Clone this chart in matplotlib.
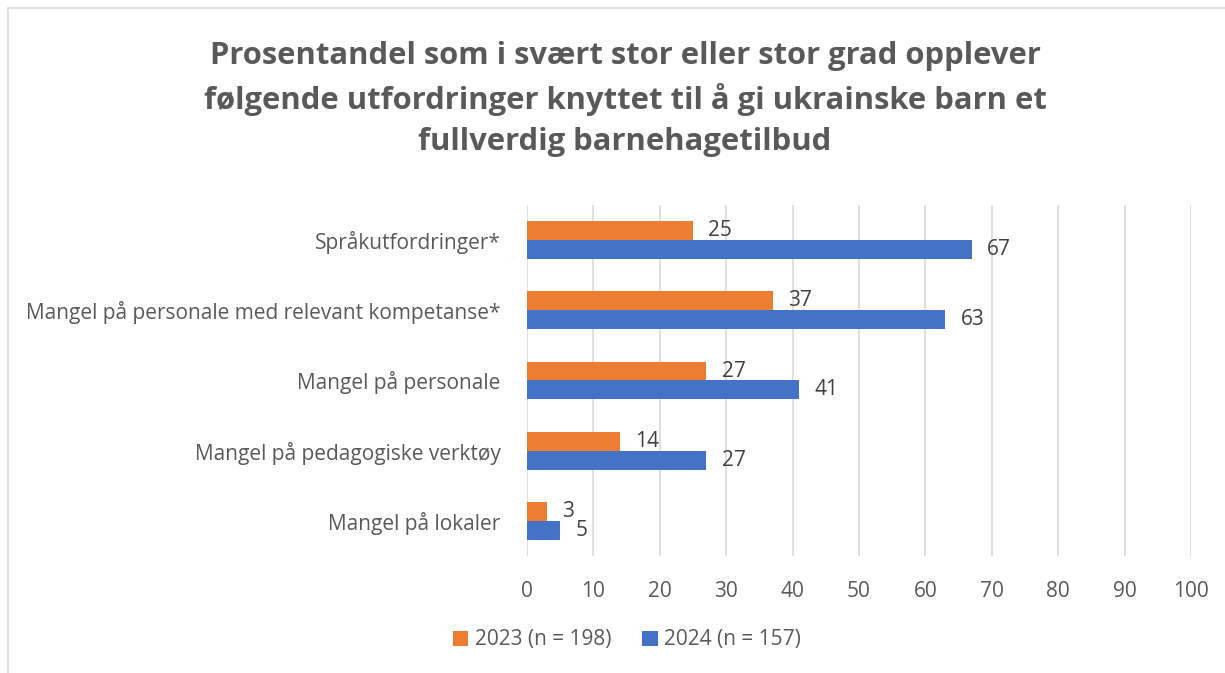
import matplotlib
matplotlib.use('Agg')
import matplotlib.pyplot as plt
import numpy as np
from matplotlib.patches import Rectangle

# Data
categories = [
    'Språkutfordringer*',
    'Mangel på personale med relevant kompetanse*',
    'Mangel på personale',
    'Mangel på pedagogiske verktøy',
    'Mangel på lokaler',
]
values_2023 = [25, 37, 27, 14, 3]
values_2024 = [67, 63, 41, 27, 5]
series_names = ['2023 (n = 198)', '2024 (n = 157)']
x_ticks = list(range(0, 101, 10))

title = ('Prosentandel som i svært stor eller stor grad opplever\n'
         'følgende utfordringer knyttet til å gi ukrainske barn et\n'
         'fullverdig barnehagetilbud')

orange = '#ED7D31'
blue = '#4472C4'
text_grey = '#595959'

plt.rcParams['font.family'] = ['Open Sans', 'DejaVu Sans']

fig = plt.figure(figsize=(12.25, 6.73), dpi=100)
ax = fig.add_axes([527 / 1225, 1 - 556 / 673, (1191 - 527) / 1225, (556 - 205) / 673])

# light frame around the chart (cut at right/bottom like the screenshot)
fig.patches.append(Rectangle((8 / 1225, -0.05), 1.2, 1 - 8 / 673 + 0.05,
                             transform=fig.transFigure, fill=False,
                             edgecolor='#D9D9D9', linewidth=1.2))

y = np.arange(len(categories))
h = 0.27
bars_23 = ax.barh(y - h / 2, values_2023, height=h, color=orange, label=series_names[0])
bars_24 = ax.barh(y + h / 2, values_2024, height=h, color=blue, label=series_names[1])

for bars in (bars_23, bars_24):
    for b in bars:
        w = b.get_width()
        ax.text(w + 2.3, b.get_y() + b.get_height() / 2, f'{w:g}',
                va='center', ha='left', fontsize=15, color='#404040')

ax.set_ylim(len(categories) - 0.5, -0.5)
ax.set_xlim(0, 100)
ax.set_xticks(x_ticks)
ax.set_yticks(y)
ax.set_yticklabels(categories)
ax.tick_params(axis='both', length=0, labelsize=15, colors=text_grey)
ax.tick_params(axis='x', pad=18)
ax.tick_params(axis='y', pad=19)
ax.grid(axis='x', color='#D9D9D9', linewidth=1.2)
ax.set_axisbelow(True)
for s in ax.spines.values():
    s.set_visible(False)

fig.text(625 / 1225, 1 - 99 / 673, title, ha='center', va='center',
         fontsize=22.3, fontweight='bold', color=text_grey, linespacing=1.45)

fig.legend(handles=[bars_23, bars_24], labels=series_names, loc='center',
           bbox_to_anchor=(627 / 1225, 1 - 640 / 673), ncol=2, frameon=False,
           fontsize=15, labelcolor=text_grey, handlelength=0.75, handleheight=0.75,
           handletextpad=0.3, columnspacing=1.5)

fig.savefig('out.png', dpi=100)
